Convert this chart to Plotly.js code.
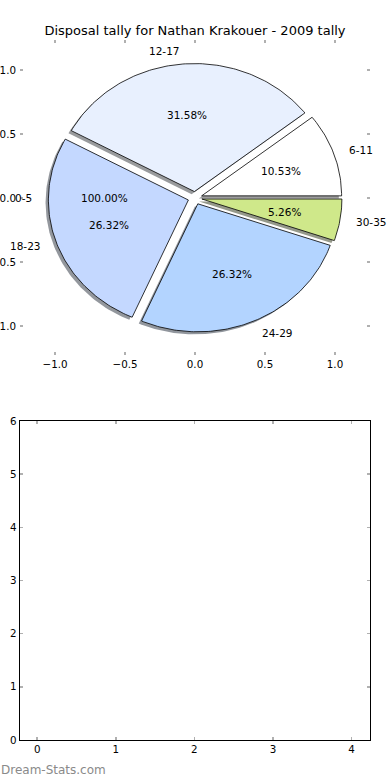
<!DOCTYPE html>
<html>
<head>
<meta charset="utf-8">
<script src="https://cdn.plot.ly/plotly-3.0.1.min.js"></script>
<style>html,body{margin:0;padding:0;background:#fff;}#chart{width:390px;height:780px;}</style>
</head>
<body>
<div id="chart"></div>
<script>
// ---- data ----
const categories = ['0-5', '6-11', '12-17', '18-23', '24-29', '30-35'];
const counts = [0, 2, 6, 5, 5, 1];
const sliceColors = ['#ffffff', '#ffffff', '#e8f0fe', '#c4d8ff', '#b3d4ff', '#cfe88a'];
const zeroSliceText = '100.00%';   // odd label printed for the empty 0-5 group
const zeroSliceAngle = 180;
const titleText = 'Disposal tally for Nathan Krakouer - 2009 tally';
const pieTickVals = [-1, -0.5, 0, 0.5, 1];
const pieTickText = ['\u22121.0', '\u22120.5', '0.0', '0.5', '1.0'];
const barXTicks = [0, 1, 2, 3, 4];
const barYTicks = [0, 1, 2, 3, 4, 5, 6];

// ---- pie geometry (matplotlib style: start 0 deg, counterclockwise) ----
const R = 1, explode = 0.05, labelDist = 1.1, pctDist = 0.6, shOff = -0.02;
const total = counts.reduce((a, b) => a + b, 0);
const font = 'DejaVu Sans, sans-serif';
const labelSize = 10.5;
const rad = d => d * Math.PI / 180;

function rgb(hex) {
  return [parseInt(hex.slice(1, 3), 16), parseInt(hex.slice(3, 5), 16), parseInt(hex.slice(5, 7), 16)];
}

const shadowTraces = [], sliceTraces = [], annotations = [];
let theta = 0;
counts.forEach((c, i) => {
  if (c === 0) {
    const a = rad(zeroSliceAngle);
    const cx = explode * Math.cos(a), cy = explode * Math.sin(a);
    annotations.push({xref: 'x', yref: 'y', x: cx + labelDist * Math.cos(a), y: cy + labelDist * Math.sin(a),
      text: categories[i], showarrow: false, xanchor: Math.cos(a) > 0 ? 'left' : 'right', yanchor: 'middle',
      font: {family: font, size: labelSize, color: '#000'}});
    annotations.push({xref: 'x', yref: 'y', x: cx + pctDist * Math.cos(a), y: cy + pctDist * Math.sin(a),
      text: zeroSliceText, showarrow: false, xanchor: 'center', yanchor: 'middle',
      font: {family: font, size: labelSize, color: '#000'}});
    return;
  }
  const span = 360 * c / total;
  const t1 = theta, t2 = theta + span, mid = rad((t1 + t2) / 2);
  theta = t2;
  const cx = explode * Math.cos(mid), cy = explode * Math.sin(mid);
  const n = Math.max(4, Math.ceil(span));
  const xs = [cx], ys = [cy];
  for (let k = 0; k <= n; k++) {
    const t = rad(t1 + span * k / n);
    xs.push(cx + R * Math.cos(t));
    ys.push(cy + R * Math.sin(t));
  }
  xs.push(cx); ys.push(cy);
  const col = rgb(sliceColors[i]);
  shadowTraces.push({type: 'scatter', mode: 'lines', x: xs.map(v => v + shOff), y: ys.map(v => v + shOff),
    fill: 'toself', fillcolor: `rgba(${Math.round(col[0]*0.3)},${Math.round(col[1]*0.3)},${Math.round(col[2]*0.3)},0.55)`,
    line: {width: 0}, hoverinfo: 'skip', showlegend: false, xaxis: 'x', yaxis: 'y'});
  sliceTraces.push({type: 'scatter', mode: 'lines', x: xs, y: ys, fill: 'toself', fillcolor: sliceColors[i],
    line: {color: '#000', width: 0.8}, hoverinfo: 'skip', showlegend: false, xaxis: 'x', yaxis: 'y'});
  const lx = cx + labelDist * Math.cos(mid), ly = cy + labelDist * Math.sin(mid);
  annotations.push({xref: 'x', yref: 'y', x: lx, y: ly, text: categories[i], showarrow: false,
    xanchor: lx > 0 ? 'left' : 'right', yanchor: 'middle', font: {family: font, size: labelSize, color: '#000'}});
  annotations.push({xref: 'x', yref: 'y', x: cx + pctDist * Math.cos(mid), y: cy + pctDist * Math.sin(mid),
    text: (100 * c / total).toFixed(2) + '%', showarrow: false, xanchor: 'center', yanchor: 'middle',
    font: {family: font, size: labelSize, color: '#000'}});
});

annotations.push({xref: 'paper', yref: 'paper', x: -0.003, y: 0.001, xanchor: 'left', yanchor: 'bottom',
  text: 'Dream-Stats.com', showarrow: false, font: {family: font, size: 12, color: '#8a8a8a'}});

const emptyBottom = {type: 'scatter', mode: 'markers', x: [], y: [], xaxis: 'x2', yaxis: 'y2',
  showlegend: false, hoverinfo: 'skip'};

const W = 390, H = 780;
const tickCol = '#b0b0b0';
const common = {ticks: 'inside', ticklen: 3, tickwidth: 1.5, tickcolor: tickCol, showgrid: false, zeroline: false,
  tickfont: {family: font, size: 10.3, color: '#000'}, fixedrange: true};

const layout = {
  width: W, height: H, margin: {l: 0, r: 0, t: 0, b: 0},
  paper_bgcolor: '#fff', plot_bgcolor: '#fff', showlegend: false,
  title: {text: titleText, x: 0.5, xanchor: 'center', y: 1 - 30 / H, yanchor: 'middle',
    font: {family: font, size: 13, color: '#000'}},
  xaxis: Object.assign({}, common, {domain: [20 / W, 370 / W], range: [-1.25, 1.25], anchor: 'y',
    tickmode: 'array', tickvals: pieTickVals, ticktext: pieTickText, showline: false, mirror: 'ticks',
    ticklabelstandoff: 2}),
  yaxis: Object.assign({}, common, {domain: [1 - 355 / H, 1 - 40 / H], range: [-1.227, 1.234], anchor: 'x',
    tickmode: 'array', tickvals: pieTickVals, ticktext: pieTickText, showline: false, mirror: 'ticks',
    ticklabelstandoff: 3}),
  xaxis2: Object.assign({}, common, {domain: [19.5 / W, 370 / W], range: [-0.225, 4.235], anchor: 'y2',
    tickmode: 'array', tickvals: barXTicks, ticktext: barXTicks.map(String),
    showline: true, linecolor: '#000', linewidth: 1, mirror: 'all'}),
  yaxis2: Object.assign({}, common, {domain: [1 - 740 / H, 1 - 421 / H], range: [0, 6], anchor: 'x2',
    tickmode: 'array', tickvals: barYTicks, ticktext: barYTicks.map(String),
    showline: true, linecolor: '#000', linewidth: 1, mirror: 'all'}),
  annotations: annotations
};

Plotly.newPlot('chart', shadowTraces.concat(sliceTraces, [emptyBottom]), layout,
  {displayModeBar: false, staticPlot: true});
</script>
</body>
</html>
